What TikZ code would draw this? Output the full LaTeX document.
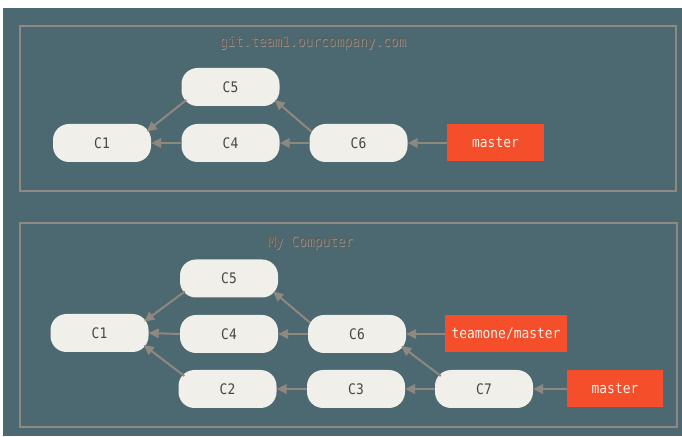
\documentclass[tikz,border=0pt]{standalone}
\usepackage{fontspec}
\newfontfamily\monof[FakeStretch=0.89]{DejaVu Sans Mono}
\usetikzlibrary{arrows.meta,calc}
\definecolor{bgc}{HTML}{4C6870}
\definecolor{framec}{HTML}{8E8983}
\definecolor{nodefill}{HTML}{F0EFE9}
\definecolor{arrc}{HTML}{8E8880}
\definecolor{redc}{HTML}{F44F2A}
\definecolor{txtc}{HTML}{4A4540}
\definecolor{titlec}{HTML}{625B56}
\definecolor{titleh}{HTML}{9C968F}
\definecolor{reftxt}{HTML}{F6F1EA}
\tikzset{
  commit/.style={fill=nodefill, rounded corners=16pt, minimum width=98pt, minimum height=38pt, inner sep=0pt, text=txtc, font=\monof\fontsize{14.5}{16}\selectfont},
  refbox/.style={fill=redc, minimum height=37pt, inner sep=0pt, text=reftxt, font=\monof\fontsize{14.5}{16}\selectfont},
  framebox/.style={draw=framec, line width=2.4pt, inner sep=0pt},
  titletext/.style={text=titlec, font=\monof\fontsize{14.5}{16}\selectfont, inner sep=0pt},
  titlehalo/.style={text=titleh, font=\monof\fontsize{14.5}{16}\selectfont, inner sep=0pt},
  arr/.style={draw=arrc, line width=2pt, -{Triangle[length=10pt,width=9.5pt]}},
}
\begin{document}
\begin{tikzpicture}[x=1pt,y=1pt]
\useasboundingbox (0,0) rectangle (682,436);
\fill[white] (0,0) rectangle (682,436);
\fill[bgc] (3,0) rectangle (682,428);

% top box
\node[framebox, minimum width=656pt, minimum height=165pt] (topbox) at (348,327.5) {};
\node[titlehalo] (t1h) at (313.7,392.3) {git.team1.ourcompany.com};
\node[titletext] (t1) at (313,393) {git.team1.ourcompany.com};
\node[commit] (tC5) at (230.5,349) {C5};
\node[commit] (tC1) at (102,293) {C1};
\node[commit] (tC4) at (230.5,293) {C4};
\node[commit] (tC6) at (358.5,293) {C6};
\node[refbox, minimum width=97pt] (tM) at (495.5,293) {master};

\draw[arr] (tC4.west) -- (tC1.east);
\draw[arr] (tC6.west) -- (tC4.east);
\draw[arr] (tM.west) -- (tC6.east);
\draw[arr] ([xshift=5pt,yshift=-13pt]tC5.west) -- ([xshift=-4.5pt,yshift=11.5pt]tC1.east);
\draw[arr] ([xshift=2pt,yshift=11.5pt]tC6.west) -- ([xshift=-5pt,yshift=-13pt]tC5.east);

% bottom box
\node[framebox, minimum width=657pt, minimum height=204pt] (botbox) at (348.5,111) {};
\node[titlehalo] (t2h) at (311.2,192.3) {My Computer};
\node[titletext] (t2) at (310.5,193) {My Computer};
\node[commit] (bC5) at (229,157.5) {C5};
\node[commit] (bC1) at (99.5,103) {C1};
\node[commit] (bC4) at (229,102) {C4};
\node[commit] (bC6) at (357,102) {C6};
\node[refbox, minimum width=122pt] (bTM) at (506,102) {teamone/master};
\node[commit] (bC2) at (227.5,47) {C2};
\node[commit] (bC3) at (356,47) {C3};
\node[commit] (bC7) at (484,47) {C7};
\node[refbox, minimum width=96pt] (bM) at (615,47) {master};

\draw[arr] (bC4.west) -- (bC1.east);
\draw[arr] (bC6.west) -- (bC4.east);
\draw[arr] (bTM.west) -- (bC6.east);
\draw[arr] (bC3.west) -- (bC2.east);
\draw[arr] (bC7.west) -- (bC3.east);
\draw[arr] (bM.west) -- (bC7.east);
\draw[arr] ([xshift=5pt,yshift=-13pt]bC5.west) -- ([xshift=-4.5pt,yshift=11.5pt]bC1.east);
\draw[arr] ([xshift=2pt,yshift=11.5pt]bC6.west) -- ([xshift=-5pt,yshift=-13pt]bC5.east);
\draw[arr] ([xshift=6pt,yshift=13pt]bC2.west) -- ([xshift=-5pt,yshift=-12pt]bC1.east);
\draw[arr] ([xshift=6pt,yshift=13pt]bC7.west) -- ([xshift=-5pt,yshift=-12pt]bC6.east);
\end{tikzpicture}
\end{document}
